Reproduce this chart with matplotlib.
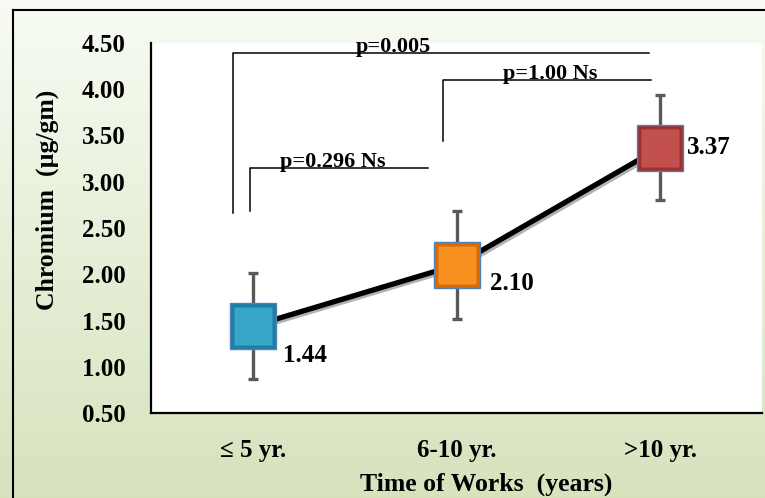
import numpy as np
import matplotlib
matplotlib.use("Agg")
import matplotlib.pyplot as plt
from matplotlib import patheffects as pe

plt.rcParams['font.family'] = ['Liberation Serif', 'DejaVu Serif']
plt.rcParams['font.weight'] = 'bold'

# data
groups = ["\u2264 5 yr.", "6-10 yr.", ">10 yr."]
means = [1.44, 2.10, 3.37]
sds = [0.57, 0.58, 0.57]
value_labels = ["1.44", "2.10", "3.37"]

# (text, x_left, x_right, y_top, y_left_bottom, text_x)
brackets = [
    ("p=0.005", -0.097, 1.945, 4.39, 2.66, 0.69),
    ("p=0.296 Ns", -0.014, 0.86, 3.15, 2.68, 0.39),
    ("p=1.00 Ns", 0.933, 1.955, 4.10, 3.44, 1.46),
]

face = ["#38A6C8", "#F7901E", "#C4504E"]
dark = ["#1E7FA2", "#D46C0C", "#9A3331"]
label_off = [(22, -21), (24, -13), (19, 0)]

W, H = 765, 498
fig = plt.figure(figsize=(W / 100, H / 100), dpi=100)

# gradient background
bg = fig.add_axes([0, 0, 1, 1], zorder=-5)
grad = np.linspace(0, 1, 256)[:, None]
top = np.array([0.97, 0.985, 0.955])
bot = np.array([0.84, 0.89, 0.74])
img = top + (bot - top) * grad[..., None]
bg.imshow(img, aspect='auto', extent=[0, 1, 0, 1])
bg.set_xlim(0, 1)
bg.set_ylim(0, 1)
bg.axis('off')
bg.plot([13 / W, 13 / W], [0, 1 - 10 / H], color='black', lw=1.5)
bg.plot([13 / W, 1], [1 - 10 / H, 1 - 10 / H], color='black', lw=1.5)

ax = fig.add_axes([151 / W, 85 / H, 611 / W, 370 / H])
ax.set_facecolor('white')
x = np.arange(len(groups))

ax.errorbar(x, means, yerr=sds, fmt='none', ecolor='#595959', elinewidth=2.4,
            capsize=3.5, capthick=2.4, zorder=2)
ax.plot(x, means, color='black', lw=3.8, zorder=3,
        path_effects=[pe.SimpleLineShadow(offset=(1.5, -1.5), alpha=0.3), pe.Normal()])
for i in range(len(x)):
    ax.plot(x[i], means[i], marker='s', ms=33, mfc=dark[i], mec='#4F81BD', mew=1, zorder=4)
    ax.plot(x[i], means[i], marker='s', ms=28, mfc=face[i], mec='none', zorder=5)
    ax.annotate(value_labels[i], (x[i], means[i]), xytext=label_off[i],
                textcoords='offset points', ha='left', va='center', fontsize=18)

for txt, xl, xr, yt, yb, tx in brackets:
    ax.plot([xl, xl, xr], [yb, yt, yt], color='black', lw=1.1, clip_on=False, zorder=1)
    ax.text(tx, yt - 0.04, txt, ha='center', va='bottom', fontsize=16, clip_on=False)

ax.set_xlim(-0.5, 2.5)
ax.set_ylim(0.5, 4.5)
ax.set_yticks(np.arange(0.5, 4.51, 0.5))
ax.set_yticklabels([f"{v:.2f}" for v in np.arange(0.5, 4.51, 0.5)])
ax.set_xticks(x)
ax.set_xticklabels(groups)
ax.tick_params(axis='y', length=0, pad=18, labelsize=18)
ax.tick_params(axis='x', length=0, pad=19, labelsize=18)
for s in ['top', 'right']:
    ax.spines[s].set_visible(False)
for s in ['left', 'bottom']:
    ax.spines[s].set_linewidth(1.6)
    ax.spines[s].set_color('black')

fig.text(486 / W, 1 - 484 / H, "Time of Works  (years)", ha='center', va='center', fontsize=18.5)
fig.text(47 / W, 1 - 200 / H, "Chromium  (\u00b5g/gm)", ha='center', va='center',
         rotation=90, fontsize=18.5)

fig.savefig("out.png", dpi=100)
